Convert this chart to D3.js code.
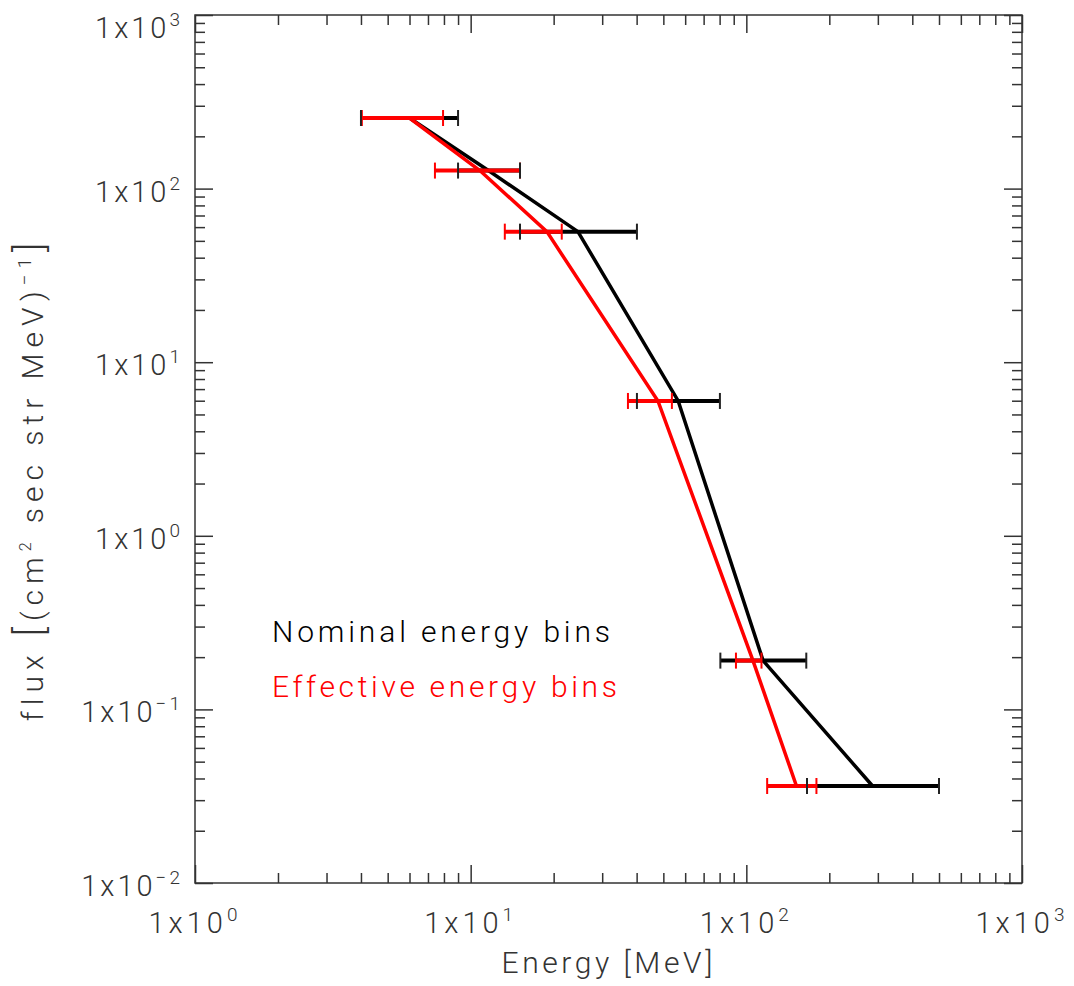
<!DOCTYPE html>
<html>
<head>
<meta charset="utf-8">
<script src="https://cdn.jsdelivr.net/npm/d3@7"></script>
<style>
  body { margin: 0; background: #fff; }
  text { font-family: Roboto, "DejaVu Sans", sans-serif; font-weight: 300; }
</style>
</head>
<body>
<svg id="chart"></svg>
<script>

// nominal energy bins (black)
var nomCenter = [6.0, 11.6, 24.5, 56.6, 115, 287];
var nomLow    = [4.0, 9.0, 15.1, 40.1, 80.5, 166];
var nomHigh   = [9.0, 15.1, 40.1, 80.2, 165, 500];

// flux per bin, shared by both series
var flux = [255, 127, 56.5, 5.98, 0.191, 0.0362];

// effective energy bins (red)
var effCenter = [6.0, 10.8, 18.9, 47.8, 105.7, 152];
var effLow    = [4.03, 7.42, 13.3, 37.2, 91.7, 119];
var effHigh   = [7.94, 15.1, 21.4, 53.7, 113.5, 179.6];

var xExponents = [0, 1, 2, 3];
var yExponents = [-2, -1, 0, 1, 2, 3];
var legendLabels = ["Nominal energy bins", "Effective energy bins"];

var margin = { top: 15, right: 52, bottom: 103, left: 195 },
    width = 1074 - margin.left - margin.right,
    height = 986 - margin.top - margin.bottom;

var x = d3.scaleLog().domain([1, 1000]).range([0, width]);
var y = d3.scaleLog().domain([0.01, 1000]).range([height, 0]);

var svg = d3.select("#chart")
    .attr("width", 1074)
    .attr("height", 986)
    .style("background", "#fff")
    .append("g")
    .attr("transform", "translate(" + margin.left + "," + margin.top + ")");

function minors(exps) {
    var out = [];
    exps.slice(0, -1).forEach(function (k) {
        d3.range(2, 10).forEach(function (m) { out.push(m * Math.pow(10, k)); });
    });
    return out;
}
var xMajor = xExponents.map(function (k) { return Math.pow(10, k); });
var yMajor = yExponents.map(function (k) { return Math.pow(10, k); });
var xMinor = minors(xExponents);
var yMinor = minors(yExponents);

function styleAxis(g) {
    g.select(".domain").remove();
    g.selectAll("line").attr("stroke", "#333").attr("stroke-width", 1.5);
    g.selectAll("text").remove();
}

// ticks on all four sides, pointing inward
[[xMajor, 18], [xMinor, 10]].forEach(function (t) {
    svg.append("g").attr("transform", "translate(0," + height + ")")
        .call(d3.axisBottom(x).tickValues(t[0]).tickSize(-t[1])).call(styleAxis);
    svg.append("g")
        .call(d3.axisTop(x).tickValues(t[0]).tickSize(-t[1])).call(styleAxis);
});
[[yMajor, 18], [yMinor, 10]].forEach(function (t) {
    svg.append("g")
        .call(d3.axisLeft(y).tickValues(t[0]).tickSize(-t[1])).call(styleAxis);
    svg.append("g").attr("transform", "translate(" + width + ",0)")
        .call(d3.axisRight(y).tickValues(t[0]).tickSize(-t[1])).call(styleAxis);
});

svg.append("rect")
    .attr("width", width)
    .attr("height", height)
    .attr("fill", "none")
    .attr("stroke", "#333")
    .attr("stroke-width", 1.5);

function expText(sel, k) {
    sel.append("tspan").text("1x10");
    sel.append("tspan")
        .attr("dy", -12)
        .attr("font-size", 19)
        .text(k < 0 ? "\u2212" + (-k) : "" + k);
}

svg.selectAll(".xlab")
    .data(xExponents)
    .enter().append("text")
    .attr("class", "xlab")
    .attr("x", function (k) { return x(Math.pow(10, k)); })
    .attr("y", height + 50)
    .attr("text-anchor", "middle")
    .attr("font-size", 29)
    .attr("letter-spacing", 4)
    .attr("fill", "#333")
    .each(function (k) { expText(d3.select(this), k); });

svg.selectAll(".ylab")
    .data(yExponents)
    .enter().append("text")
    .attr("class", "ylab")
    .attr("x", -12)
    .attr("y", function (k) { return Math.max(y(Math.pow(10, k)) + 13, 23); })
    .attr("text-anchor", "end")
    .attr("font-size", 29)
    .attr("letter-spacing", 3)
    .attr("fill", "#333")
    .each(function (k) { expText(d3.select(this), k); });

// axis titles
svg.append("text")
    .attr("x", 607 - margin.left)
    .attr("y", 973 - margin.top)
    .attr("text-anchor", "middle")
    .attr("font-size", 30)
    .attr("textLength", 211)
    .attr("fill", "#333")
    .text("Energy [MeV]");

var ytitle = svg.append("text")
    .attr("transform", "translate(" + (43 - margin.left) + "," + (479 - margin.top) + ") rotate(-90)")
    .attr("text-anchor", "middle")
    .attr("font-size", 30)
    .attr("letter-spacing", 6)
    .attr("fill", "#333");
ytitle.append("tspan").text("flux ");
ytitle.append("tspan").attr("font-size", 38).text("[");
ytitle.append("tspan").text("(cm");
ytitle.append("tspan").attr("dy", -12).attr("font-size", 16).text("2");
ytitle.append("tspan").attr("dy", 12).text(" sec str MeV)");
ytitle.append("tspan").attr("dy", -12).attr("font-size", 19).text("\u22121");
ytitle.append("tspan").attr("dy", 12).attr("font-size", 38).text("]");

// series
function toPoints(center, low, high) {
    return center.map(function (c, i) {
        return { e: c, lo: low[i], hi: high[i], f: flux[i] };
    });
}
var nominal = toPoints(nomCenter, nomLow, nomHigh);
var effective = toPoints(effCenter, effLow, effHigh);

var line = d3.line()
    .x(function (d) { return x(d.e); })
    .y(function (d) { return y(d.f); });

function drawSeries(data, color) {
    svg.append("path")
        .datum(data)
        .attr("d", line)
        .attr("fill", "none")
        .attr("stroke", color)
        .attr("stroke-width", 3.5)
        .attr("stroke-linejoin", "miter");
    svg.selectAll(null)
        .data(data)
        .enter().append("line")
        .attr("x1", function (d) { return x(d.lo); })
        .attr("x2", function (d) { return x(d.hi); })
        .attr("y1", function (d) { return y(d.f); })
        .attr("y2", function (d) { return y(d.f); })
        .attr("stroke", color)
        .attr("stroke-width", 4);
}

function drawCaps(data, color) {
    var caps = [];
    data.forEach(function (d) { caps.push([d.lo, d.f], [d.hi, d.f]); });
    svg.selectAll(null)
        .data(caps)
        .enter().append("line")
        .attr("x1", function (d) { return x(d[0]); })
        .attr("x2", function (d) { return x(d[0]); })
        .attr("y1", function (d) { return y(d[1]) - 8; })
        .attr("y2", function (d) { return y(d[1]) + 8; })
        .attr("stroke", color)
        .attr("stroke-width", 2);
}

drawSeries(nominal, "#000");
drawSeries(effective, "#ff0000");
drawCaps(effective, "#ff0000");
drawCaps(nominal, "#222");

// legend
svg.selectAll(".legend")
    .data(legendLabels)
    .enter().append("text")
    .attr("class", "legend")
    .attr("x", 272 - margin.left)
    .attr("y", function (d, i) { return 642 - margin.top + i * 55; })
    .attr("font-size", 30)
    .attr("textLength", function (d, i) { return i === 0 ? 338 : 345; })
    .attr("fill", function (d, i) { return i === 0 ? "#000" : "#ff0000"; })
    .text(function (d) { return d; });

</script>
</body>
</html>
